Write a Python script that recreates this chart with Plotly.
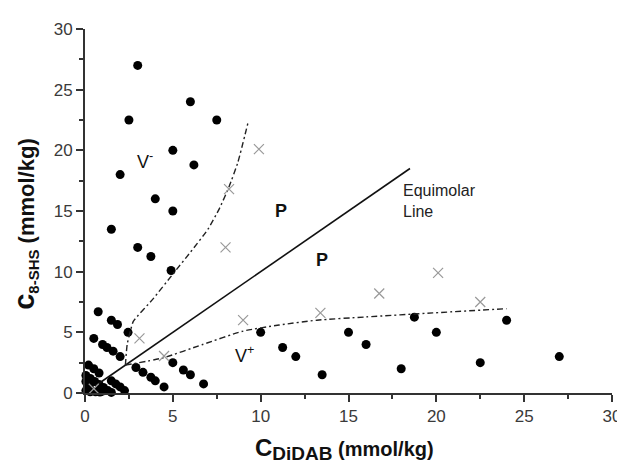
import plotly.graph_objects as go

# Filled circles
circle_x = [3, 2.5, 6, 7.5, 5, 2, 6.2, 4, 5, 1.5, 3, 3.75, 4.9,
            0.75, 1.5, 1.85, 2.45, 0.5, 1.0, 1.25, 1.6, 2.0,
            0.2, 0.5, 0.8,
            0.05, 0.3, 0.55, 0.8, 1.05, 1.3, 1.5, 0.05, 0.2, 0.05, 0.3, 0.85,
            0.25, 0.3, 1.0, 0.6,
            1.5, 1.75, 2.0, 2.25,
            2.9, 3.3, 3.75, 4.0, 4.5,
            5.0, 5.6, 6.0, 6.75,
            10, 11.25, 12, 13.5, 15, 16, 18, 18.75, 20, 22.5, 24, 27]
circle_y = [27, 22.5, 24, 22.5, 20, 18, 18.8, 16, 15, 13.5, 12, 11.25, 10.1,
            6.7, 6.0, 5.65, 5.0, 4.5, 4.0, 3.75, 3.45, 3.0,
            2.3, 2.0, 1.65,
            1.45, 1.2, 0.95, 0.7, 0.45, 0.2, 0.05, 0.95, 0.6, 0.2, 0.1, 0.08,
            0.45, 0.85, 0.15, 0.1,
            1.0, 0.75, 0.5, 0.2,
            2.1, 1.7, 1.3, 1.0, 0.5,
            2.5, 1.9, 1.5, 0.75,
            5, 3.75, 3, 1.5, 5, 4, 2, 6.25, 5, 2.5, 6, 3]

# Crosses
cross_x = [9.9, 8.2, 8.0, 3.1, 4.5, 9.0, 13.4, 16.75, 20.1, 22.5, 0.5]
cross_y = [20.1, 16.8, 12.0, 4.5, 3.05, 6.0, 6.6, 8.2, 9.9, 7.5, 0.35]

# Equimolar line
equimolar_x = [0.6, 18.5]
equimolar_y = [0.6, 18.5]

# Phase boundaries (dash-dot)
upper_x = [2.3, 2.4, 2.6, 2.75, 3.9, 5.0, 6.0, 7.0, 7.65, 8.2, 8.7, 9.3]
upper_y = [2.3, 4.0, 5.2, 5.9, 7.8, 9.8, 11.6, 13.5, 15.2, 17.0, 19.0, 22.4]
lower_x = [2.3, 4.45, 6.7, 9.0, 11.05, 13.2, 16.0, 19.8, 24.0]
lower_y = [2.3, 2.9, 4.0, 5.1, 5.6, 6.0, 6.27, 6.6, 6.95]

tick_vals = [0, 5, 10, 15, 20, 25, 30]
tick_text = ["0", "5", "10", "15", "20", "25", "30"]

FONT = "Arial, Liberation Sans, sans-serif"

fig = go.Figure()
fig.add_trace(go.Scatter(x=circle_x, y=circle_y, mode="markers",
                         marker=dict(color="black", size=9, symbol="circle"),
                         cliponaxis=False, showlegend=False))
fig.add_trace(go.Scatter(x=equimolar_x, y=equimolar_y, mode="lines",
                         line=dict(color="#111111", width=1.6),
                         showlegend=False))
fig.add_trace(go.Scatter(x=upper_x, y=upper_y, mode="lines",
                         line=dict(color="#222222", width=1.4, dash="6px,3px,2px,3px",
                                   shape="spline", smoothing=0.5),
                         showlegend=False))
fig.add_trace(go.Scatter(x=lower_x, y=lower_y, mode="lines",
                         line=dict(color="#222222", width=1.4, dash="6px,3px,2px,3px",
                                   shape="spline", smoothing=0.6),
                         showlegend=False))
fig.add_trace(go.Scatter(x=cross_x, y=cross_y, mode="markers",
                         marker=dict(color="#999999", size=10, symbol="x-thin",
                                     line=dict(color="#999999", width=1.2)),
                         cliponaxis=False, showlegend=False))

axis_common = dict(range=[0, 30], showgrid=False, zeroline=False,
                   showline=True, linecolor="#333333", linewidth=2,
                   ticks="outside", ticklen=7, tickwidth=1.5, tickcolor="#333333",
                   tickvals=tick_vals, ticktext=tick_text,
                   tickfont=dict(family=FONT, size=17, color="#3a3a3a"),
                   minor=dict(dtick=2.5, ticks="outside", ticklen=4, tickwidth=1.5,
                              tickcolor="#333333", showgrid=False))

# page body adds an 8px offset; margins compensate so the plot area lands at
# x 85..614, y 20..393 in the window
fig.update_layout(
    width=625, height=460,
    margin=dict(l=77, r=19, t=12, b=75),
    paper_bgcolor="white", plot_bgcolor="white",
    xaxis=dict(**axis_common),
    yaxis=dict(**axis_common),
    font=dict(family=FONT, color="#111111"),
)

annots = [
    dict(x=3.4, y=19.2, text="V<sup>-</sup>", size=18),
    dict(x=11.15, y=15.0, text="<b>P</b>", size=18),
    dict(x=13.5, y=11.0, text="<b>P</b>", size=18),
    dict(x=9.1, y=3.2, text="V<sup>+</sup>", size=18),
]
for a in annots:
    fig.add_annotation(xref="x", yref="y", showarrow=False,
                       xanchor="center", yanchor="middle",
                       font=dict(family=FONT, size=a["size"], color="#111111"),
                       x=a["x"], y=a["y"], text=a["text"])

fig.add_annotation(xref="x", yref="y", x=18.0, y=15.8, showarrow=False,
                   xanchor="left", yanchor="middle", align="left",
                   text="Equimolar<br>Line",
                   font=dict(family=FONT, size=16, color="#222222"))

fig.add_annotation(xref="paper", yref="paper", x=0.4915, y=-0.155, showarrow=False,
                   xanchor="center", yanchor="middle",
                   text='<b><span style="font-size:24px">C</span><sub><span style="font-size:19px">DiDAB</span></sub> (mmol/kg)</b>',
                   font=dict(family=FONT, size=20, color="#111111"))
fig.add_annotation(xref="paper", yref="paper", x=-0.113, y=0.466, showarrow=False,
                   xanchor="center", yanchor="middle", textangle=-90,
                   text='<b><span style="font-size:29px">c</span><sub><span style="font-size:15px">8-SHS</span></sub> (mmol/kg)</b>',
                   font=dict(family=FONT, size=22, color="#111111"))

fig.write_html("out.html")
